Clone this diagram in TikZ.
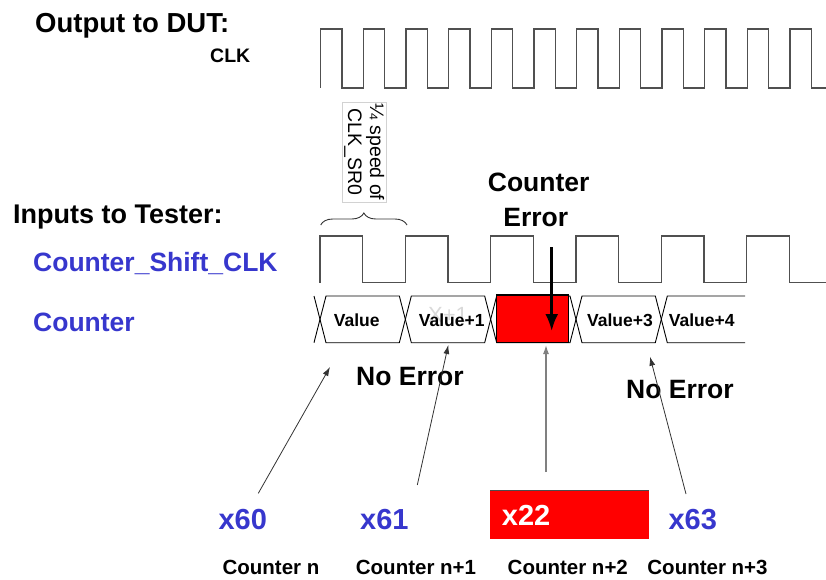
\documentclass[tikz,border=0pt]{standalone}
\usepackage{fontspec}
\setmainfont{Liberation Sans}
\usetikzlibrary{calc,positioning,arrows.meta,decorations.pathreplacing}

\definecolor{sigblue}{RGB}{55,55,205}
\definecolor{wavegray}{RGB}{80,80,80}

\tikzset{
  heading/.style={anchor=base west, inner sep=0pt, font=\fontsize{26.5}{30}\selectfont\bfseries},
  signame/.style={heading, text=sigblue},
  buslabel/.style={anchor=base, inner sep=0pt, font=\fontsize{17.5}{20}\selectfont\bfseries},
  hexlabel/.style={anchor=base west, inner sep=0pt, text=sigblue, font=\fontsize{29}{34}\selectfont\bfseries},
  cntlabel/.style={anchor=base, inner sep=0pt, font=\fontsize{20.5}{24}\selectfont\bfseries},
  wave/.style={draw=wavegray, line width=1.3pt},
  bus/.style={draw=black, line width=0.9pt},
  ptr/.style={-{Latex[length=9pt,width=6pt]}, line width=0.8pt, draw=black!80},
}

\begin{document}
\begin{tikzpicture}[x=1pt,y=-1pt]
  \useasboundingbox (0,0) rectangle (826,580);

  % signal names
  \node[heading, font=\fontsize{27.5}{31}\selectfont\bfseries] (out) at (35,33) {Output to DUT:};
  \node[heading, font=\fontsize{19.5}{23}\selectfont\bfseries] (clk) at (210,63) {CLK};
  \node[heading, font=\fontsize{27}{31}\selectfont\bfseries] (inp) at (13,223) {Inputs to Tester:};
  \node[signame] (shclk) at (33,271) {Counter\_Shift\_CLK};
  \node[signame] (cnt) at (33,331) {Counter};

  % CLK
  \draw[wave] (320.7,88) \foreach \k in {1,...,12} { -- ++(0,-59) -- ++(21.33,0) -- ++(0,59) -- ++(21.33,0) };

  % Counter_Shift_CLK
  \draw[wave] (320,282.7) \foreach \k in {1,...,6} { -- ++(0,-46.7) -- ++(42.67,0) -- ++(0,46.7) -- ++(42.67,0) };

  % speed note and brace
  \node[draw=gray!35, rotate=-90, minimum width=99pt, minimum height=43.3pt, inner sep=0pt,
        align=center, font=\fontsize{19.5}{22}\selectfont] (note) at (364.3,152.2) {¼ speed of\\CLK\_SR0};
  \draw[decorate, decoration={brace, amplitude=12pt}, line width=0.9pt, draw=black!80] (320.7,225) -- (407,225);

  % Counter bus
  \foreach \k in {0,...,3} {
    \draw[bus] ({320+85.33*\k},319.3) -- ++(6,-23.3) -- ({320+85.33*(\k+1)-6},296)
      -- ({320+85.33*(\k+1)},319.3) -- ({320+85.33*(\k+1)-6},342.7) -- ({320+85.33*\k+6},342.7) -- cycle;
  }
  \draw[bus] (314,296) -- (320,319.3) -- (314,342.7);
  \draw[bus] (745,296) -- (667.3,296) -- (661.3,319.3) -- (667.3,342.7) -- (745,342.7);

  \node[text=gray!30, font=\fontsize{22}{26}\selectfont] (ghost) at (448,315) {X+1};
  \node[buslabel] (v0) at (356.7,326) {Value};
  \node[buslabel] (v1) at (451.7,326) {Value+1};
  \node[buslabel] (v3) at (620,326) {Value+3};
  \node[buslabel] (v4) at (701.7,326) {Value+4};

  % bad slot
  \node[draw=black, fill=red, line width=1.2pt, minimum width=71.6pt, minimum height=47.7pt, inner sep=0pt] (bad) at (532.5,318.85) {};

  % Counter Error
  \node[heading, anchor=base] (cerr1) at (538.7,191.7) {Counter};
  \node[heading, anchor=base] (cerr2) at (535.8,226.7) {Error};
  \coordinate (errtail) at (551.7,247);
  \coordinate (errtip) at (551.7,331);
  \draw[-{Latex[length=17pt,width=13pt]}, line width=2.6pt] (errtail) -- (errtip);

  \node[heading] (ok1) at (356,385) {No Error};
  \node[heading] (ok2) at (626,398.3) {No Error};

  % values read back
  \node[hexlabel] (x60) at (218.3,529.3) {x60};
  \node[hexlabel] (x61) at (360,529.3) {x61};
  \node[hexlabel] (x63) at (668.3,529.3) {x63};
  \node[fill=red, anchor=north west, minimum width=158.3pt, minimum height=48.3pt, text width=135pt,
        inner xsep=11.7pt, inner ysep=0pt, align=left, text=white,
        font=\fontsize{29}{34}\selectfont\bfseries] (x22) at (490,490.7) {x22};
  \draw[black!70, line width=1pt] (x22.north west) -- (x22.north east);

  \node[cntlabel] (cn0) at (271,574) {Counter n};
  \node[cntlabel] (cn1) at (416,574) {Counter n+1};
  \node[cntlabel] (cn2) at (567.8,574) {Counter n+2};
  \node[cntlabel] (cn3) at (707.5,574) {Counter n+3};

  % pointers
  \coordinate (p60) at (258.3,493.3);
  \coordinate (t60) at (330,367);
  \coordinate (p61) at (417.3,485);
  \coordinate (t61) at (448.3,345);
  \coordinate (p22) at (546,472);
  \coordinate (t22) at (546,345);
  \coordinate (p63) at (686,494);
  \coordinate (t63) at (650,356.7);
  \draw[ptr] (p60) -- (t60);
  \draw[ptr] (p61) -- (t61);
  \draw[ptr, draw=gray, line width=1.3pt] (p22) -- (t22);
  \draw[ptr] (p63) -- (t63);
\end{tikzpicture}
\end{document}
